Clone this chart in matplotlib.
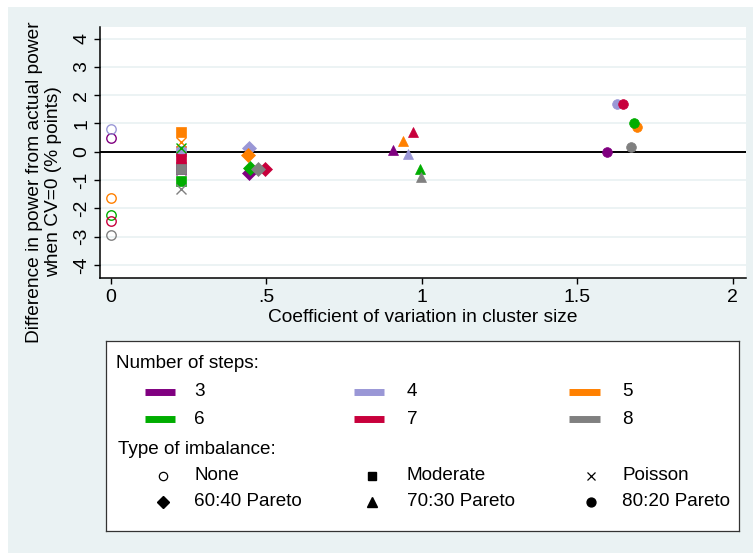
import matplotlib
matplotlib.use("Agg")
import matplotlib.pyplot as plt
from matplotlib.patches import Rectangle

plt.rcParams['font.family'] = ['Liberation Sans', 'DejaVu Sans']

# number of steps and their colours
steps = ["3", "4", "5", "6", "7", "8"]
colors = ["#800080", "#9a97d6", "#ff8000", "#00ad00", "#c8003c", "#808080"]

# type of imbalance
types = ["None", "Moderate", "Poisson", "60:40 Pareto", "70:30 Pareto", "80:20 Pareto"]

# coefficient of variation / difference in power, one value per number of steps (3..8)
cv_none = [0, 0, 0, 0, 0, 0]
diff_none = [0.47, 0.79, -1.62, -2.22, -2.43, -2.93]
cv_moderate = [0.225, 0.225, 0.225, 0.225, 0.225, 0.225]
diff_moderate = [-0.62, 0.03, 0.69, -1.04, -0.25, -0.62]
cv_poisson = [0.225, 0.225, 0.225, 0.225, 0.225, 0.225]
diff_poisson = [-0.66, 0.04, 0.33, 0.15, -0.22, -1.33]
cv_p6040 = [0.445, 0.445, 0.441, 0.447, 0.497, 0.474]
diff_p6040 = [-0.74, 0.12, -0.12, -0.58, -0.62, -0.62]
cv_p7030 = [0.908, 0.956, 0.940, 0.994, 0.972, 0.996]
diff_p7030 = [0.08, -0.08, 0.39, -0.60, 0.71, -0.90]
cv_p8020 = [1.594, 1.628, 1.691, 1.683, 1.648, 1.671]
diff_p8020 = [-0.02, 1.69, 0.86, 1.00, 1.69, 0.16]

cvs = [cv_none, cv_moderate, cv_poisson, cv_p6040, cv_p7030, cv_p8020]
diffs = [diff_none, diff_moderate, diff_poisson, diff_p6040, diff_p7030, diff_p8020]

# marker, size in plot, size in legend, filled
styles = [("o", 6.8, 6.0, False), ("s", 7.0, 5.8, True), ("x", 6.8, 5.8, False),
          ("D", 6.8, 6.2, True), ("^", 7.8, 6.8, True), ("o", 7.0, 6.4, True)]

W, H = 753, 553
bg = "#eaf2f3"
fig = plt.figure(figsize=(W / 100, H / 100), dpi=100, facecolor="white")
fig.patches.append(Rectangle((8 / W, 0), 1 - 8 / W, 1 - 7 / H, transform=fig.transFigure,
                             facecolor=bg, edgecolor="none", zorder=-10))

ax = fig.add_axes([100 / W, 1 - 277.7 / H, 646 / W, 251 / H])
ax.set_facecolor("white")

for j, col in enumerate(colors):
    for t, (m, ms, _, filled) in enumerate(styles):
        if filled:
            ax.plot(cvs[t][j], diffs[t][j], m, ms=ms, color=col, mec=col, mew=0.5, zorder=3)
        elif m == "x":
            ax.plot(cvs[t][j], diffs[t][j], m, ms=ms, color=col, mew=1.0, zorder=3)
        else:
            ax.plot(cvs[t][j], diffs[t][j], m, ms=ms, mfc="none", mec=col, mew=1.0, zorder=3)

ax.axhline(0, color="black", lw=1.4, zorder=2)
ax.set_xlim(-0.035, 2.042)
ax.set_ylim(-4.45, 4.42)
ax.set_xticks([0, 0.5, 1, 1.5, 2])
ax.set_xticklabels(["0", ".5", "1", "1.5", "2"])
ax.set_yticks(range(-4, 5))
ax.set_yticklabels([str(v) for v in range(-4, 5)], rotation=90, va="center")
ax.grid(axis="y", color=bg, lw=1.3)
ax.set_axisbelow(True)
for s in ["top", "right"]:
    ax.spines[s].set_visible(False)
for s in ["left", "bottom"]:
    ax.spines[s].set_linewidth(1.1)
ax.tick_params(length=4, width=1, labelsize=14, colors="black")
ax.tick_params(axis="y", pad=3)
ax.tick_params(axis="x", pad=4)

fig.text(423 / W, 1 - 318 / H, "Coefficient of variation in cluster size",
         ha="center", va="center", fontsize=13.8)
fig.text(44 / W, 1 - 182 / H, "Difference in power from actual power\nwhen CV=0 (% points)",
         ha="center", va="center", rotation=90, fontsize=13.8, linespacing=1.1)

# legend box
lax = fig.add_axes([106 / W, 1 - 531 / H, 633 / W, 190 / H])
lax.set_xlim(106, 739)
lax.set_ylim(531, 341)
lax.set_xticks([])
lax.set_yticks([])
lax.set_facecolor("white")
for s in lax.spines.values():
    s.set_color("#333333")
    s.set_linewidth(0.9)

patch_x = [(145, 175), (354, 384), (569, 600)]
label_x = [194, 407, 622]
marker_x = [163, 372, 591]
step_rows = [392, 419]
type_rows = [476, 502]

lax.text(116, 363, "Number of steps:", ha="left", va="center", fontsize=13.6)
for j, (name, col) in enumerate(zip(steps, colors)):
    r, c = divmod(j, 3)
    lax.plot(patch_x[c], [step_rows[r]] * 2, color=col, lw=5, solid_capstyle="butt")
    lax.text(label_x[c], step_rows[r], name, ha="left", va="center", fontsize=13.6)

lax.text(118, 449, "Type of imbalance:", ha="left", va="center", fontsize=13.6)
for t, (name, (m, _, lms, filled)) in enumerate(zip(types, styles)):
    r, c = divmod(t, 3)
    if filled:
        lax.plot(marker_x[c], type_rows[r], m, ms=lms, color="black")
    elif m == "x":
        lax.plot(marker_x[c], type_rows[r], m, ms=lms, color="black", mew=0.9)
    else:
        lax.plot(marker_x[c], type_rows[r], m, ms=lms, mfc="white", mec="black", mew=0.9)
    lax.text(label_x[c], type_rows[r], name, ha="left", va="center", fontsize=13.6)

fig.savefig("out.png", dpi=100, facecolor="white")
